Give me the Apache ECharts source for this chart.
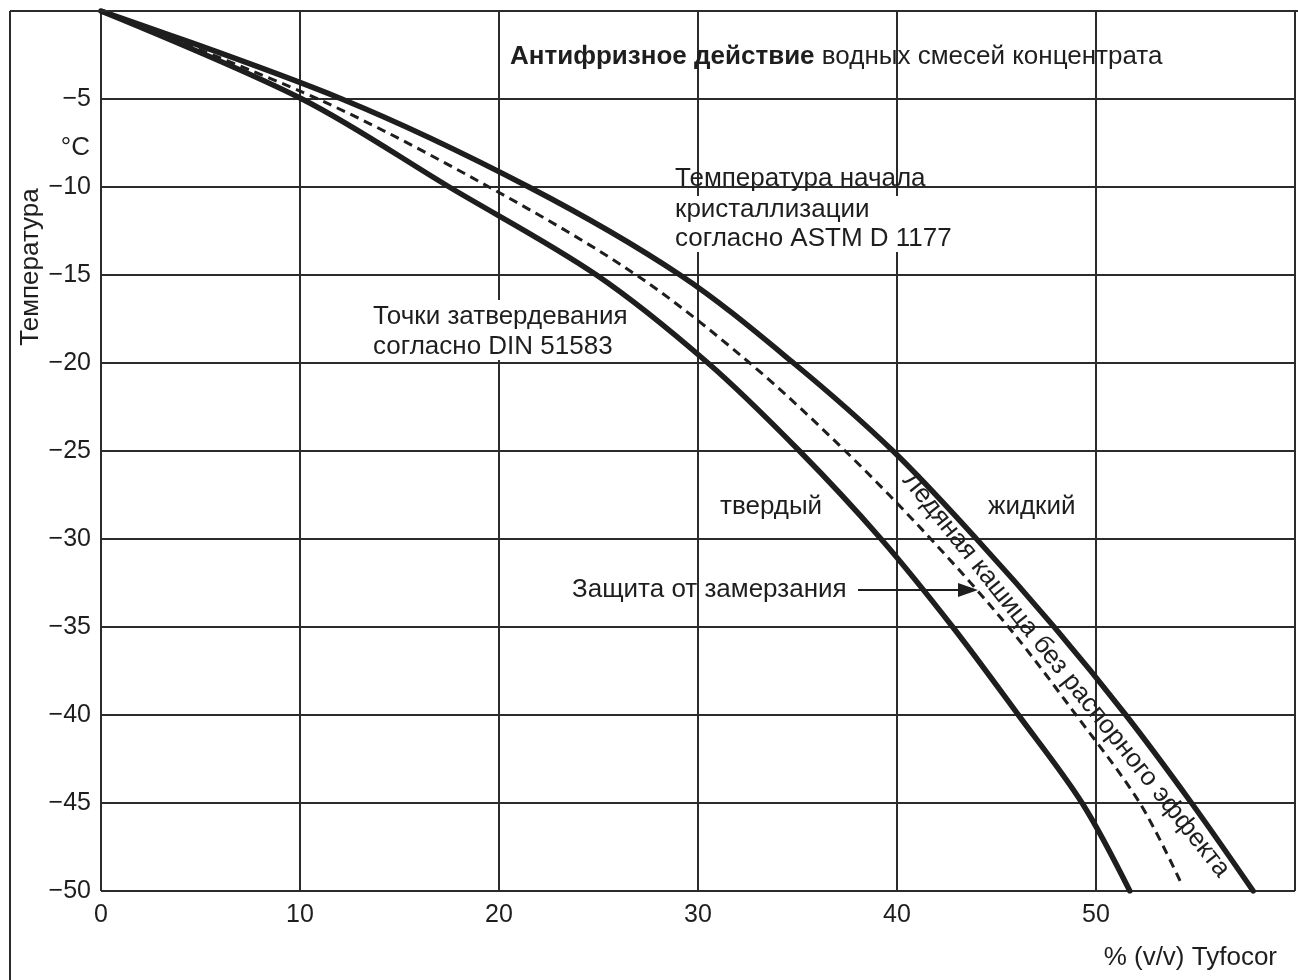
<!DOCTYPE html>
<html>
<head>
<meta charset="utf-8">
<script src="https://cdn.jsdelivr.net/npm/echarts@6/dist/echarts.min.js"></script>
<style>
  html, body { margin: 0; padding: 0; background: #fff; }
  #chart { width: 1298px; height: 980px; }
</style>
</head>
<body>
<div id="chart"></div>
<script>
// Concentration, % (v/v) Tyfocor, and temperature, °C
const xTicks = [0, 10, 20, 30, 40, 50];
const yTicks = [-5, -10, -15, -20, -25, -30, -35, -40, -45, -50];

// Crystallization onset (ASTM D 1177)
const astmX = [0, 12.1, 21.5, 29.1, 34.8, 39.8, 44.0, 47.9, 51.5, 54.8, 57.9];
const astmY = [0, -5, -10, -15, -20, -25, -30, -35, -40, -45, -50];

// Solidification points (DIN 51583)
const dinX = [0, 10.1, 17.5, 24.9, 30.5, 35.1, 39.2, 42.8, 46.1, 49.3, 51.7];
const dinY = [0, -5, -10, -15, -20, -25, -30, -35, -40, -45, -50];

// Freeze protection (ice slush without bursting effect)
const protX = [0, 10.9, 19.5, 26.9, 32.6, 37.4, 41.7, 45.6, 49.0, 52.2, 54.3];
const protY = [0, -5, -10, -15, -20, -25, -30, -35, -40, -45, -49.6];

const pairs = (xs, ys) => xs.map((x, i) => [x, ys[i]]);

const FONT = '"Liberation Sans", Arial, Helvetica, sans-serif';
const INK = '#1e1e1e';
const GRID = '#2b2b2b';
const FS = 26;
const SMOOTH = 0.33;

function label(x, y, text, extra) {
  return Object.assign({
    type: 'text', x: x, y: y, z: 50,
    style: Object.assign({
      text: text, fill: INK, font: FS + 'px ' + FONT,
      align: 'left', verticalAlign: 'middle'
    }, (extra && extra.style) || {})
  }, extra && extra.el || {});
}

const chart = echarts.init(document.getElementById('chart'), null, { renderer: 'canvas' });

chart.setOption({
  animation: false,
  backgroundColor: '#fff',
  grid: { left: 101, right: -10, top: 11, bottom: 89, containLabel: false },
  xAxis: {
    type: 'value', min: 0, max: 60, interval: 10,
    axisLine: { show: false }, axisTick: { show: false },
    splitLine: { show: true, lineStyle: { color: GRID, width: 2 } },
    axisLabel: {
      color: INK, fontSize: 25, fontFamily: FONT, margin: 12,
      formatter: v => (xTicks.indexOf(v) >= 0 ? String(v) : '')
    }
  },
  yAxis: {
    type: 'value', min: -50, max: 0, interval: 5,
    axisLine: { show: false }, axisTick: { show: false },
    splitLine: { show: true, lineStyle: { color: GRID, width: 2 } },
    axisLabel: {
      color: INK, fontSize: 25, fontFamily: FONT, margin: 10,
      formatter: v => (yTicks.indexOf(v) >= 0 ? '\u2212' + Math.abs(v) : '')
    }
  },
  series: [
    {
      name: 'ASTM D 1177', type: 'line', data: pairs(astmX, astmY),
      smooth: SMOOTH, symbol: 'none', z: 10,
      lineStyle: { color: INK, width: 5.5, cap: 'round' }
    },
    {
      name: 'DIN 51583', type: 'line', data: pairs(dinX, dinY),
      smooth: SMOOTH, symbol: 'none', z: 10,
      lineStyle: { color: INK, width: 5.5, cap: 'round' }
    },
    {
      name: 'Защита от замерзания', type: 'line', data: pairs(protX, protY),
      smooth: SMOOTH, symbol: 'none', z: 9,
      lineStyle: { color: INK, width: 3, type: [9, 6] }
    }
  ],
  graphic: [
    // outer frame
    { type: 'line', shape: { x1: 10, y1: 11, x2: 1298, y2: 11 }, style: { stroke: GRID, lineWidth: 2 }, z: 40 },
    { type: 'line', shape: { x1: 10, y1: 11, x2: 10, y2: 980 }, style: { stroke: GRID, lineWidth: 2 }, z: 40 },

    // axis titles
    label(31, 267, 'Температура', { style: { align: 'center' }, el: { rotation: Math.PI / 2 } }),
    label(90, 148, '°C', { style: { align: 'right' } }),
    label(1277, 958, '% (v/v) Tyfocor', { style: { align: 'right' } }),

    // heading
    {
      type: 'text', x: 510, y: 57, z: 50,
      style: {
        text: '{b|Антифризное действие} водных смесей концентрата',
        fill: INK, font: FS + 'px ' + FONT, align: 'left', verticalAlign: 'middle',
        rich: { b: { fontWeight: 'bold', fontSize: FS, fontFamily: FONT, fill: INK } }
      }
    },

    // curve annotations; white patches sit under the curves but over the grid
    label(675, 179, 'Температура начала'),
    { type: 'rect', shape: { x: 672, y: 196, width: 284, height: 56 }, style: { fill: '#fff' }, z: 5 },
    label(675, 210, 'кристаллизации'),
    label(675, 239, 'согласно ASTM D 1177'),

    { type: 'rect', shape: { x: 370, y: 300, width: 264, height: 60 }, style: { fill: '#fff' }, z: 5 },
    label(373, 317, 'Точки затвердевания'),
    label(373, 347, 'согласно DIN 51583'),

    label(720, 507, 'твердый'),
    label(988, 507, 'жидкий'),

    label(572, 590, 'Защита от замерзания'),
    { type: 'line', shape: { x1: 858, y1: 590, x2: 962, y2: 590 }, style: { stroke: INK, lineWidth: 2 }, z: 50 },
    { type: 'polygon', shape: { points: [[978, 590], [958, 583], [958, 597]] }, style: { fill: INK }, z: 50 },

    label(1066, 675, 'Ледяная кашица без распорного эффекта', {
      style: { align: 'center' },
      el: { rotation: -Math.atan2(408, 325) }
    })
  ]
});
</script>
</body>
</html>
